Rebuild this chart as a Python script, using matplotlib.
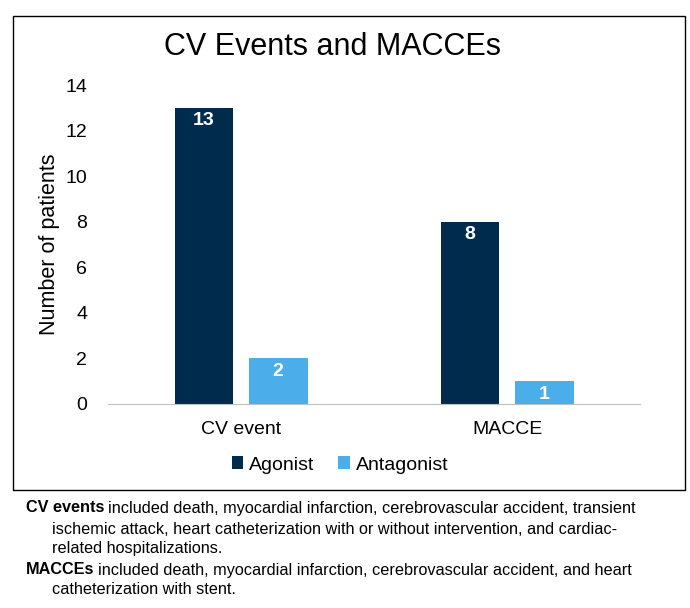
import matplotlib.pyplot as plt
from matplotlib.patches import Rectangle

plt.rcParams['font.family'] = ['Liberation Sans', 'DejaVu Sans']

categories = ["CV event", "MACCE"]
agonist = [13, 8]
antagonist = [2, 1]
series_names = ["Agonist", "Antagonist"]
yticks = [0, 2, 4, 6, 8, 10, 12, 14]

dark = "#002B4D"
light = "#4BADE9"

fig = plt.figure(figsize=(6.9, 6.08), dpi=100)
W, H = 690, 608

# chart frame
fig.patches.append(Rectangle((13 / W, 1 - 490 / H), (685 - 13) / W, (490 - 16) / H,
                             transform=fig.transFigure, fill=False,
                             edgecolor="black", linewidth=1))

ax = fig.add_axes([108 / W, 1 - 404 / H, (640 - 108) / W, (404 - 85) / H])
x = [0, 1]
w = 0.22
off = 0.14
b1 = ax.bar([i - off for i in x], agonist, w, color=dark, label=series_names[0])
b2 = ax.bar([i + off for i in x], antagonist, w, color=light, label=series_names[1])

for bars in (b1, b2):
    for r in bars:
        ax.text(r.get_x() + r.get_width() / 2, r.get_height() - 0.2,
                str(int(r.get_height())), ha="center", va="top",
                color="white", fontsize=14, fontweight="bold")

ax.set_xlim(-0.5, 1.5)
ax.set_ylim(0, 14)
ax.set_yticks(yticks)
ax.set_xticks(x)
ax.set_xticklabels(categories, fontsize=14)
ax.tick_params(axis="y", labelsize=14, length=0, pad=15)
ax.tick_params(axis="x", length=0, pad=12)
for s in ["top", "right", "left"]:
    ax.spines[s].set_visible(False)
ax.spines["bottom"].set_color("#BFBFBF")
ax.set_ylabel("Number of patients", fontsize=15.5, labelpad=4)

fig.text(333 / W, 1 - 47 / H, "CV Events and MACCEs", ha="center", va="center",
         fontsize=22)

fig.legend(handles=[b1, b2], labels=series_names, loc="center",
           bbox_to_anchor=(340 / W, 1 - 465 / H), ncol=2, frameon=False,
           fontsize=14, handlelength=0.6, handleheight=0.6, handletextpad=0.3,
           columnspacing=1.2)

fs = 11.7
x0 = 26 / W
x1 = 52 / W
lines = [
    (x0, 508, [("CV events", "bold"), ("included death, myocardial infarction, cerebrovascular accident, transient", "normal")]),
    (x1, 529, [("ischemic attack, heart catheterization with or without intervention, and cardiac-", "normal")]),
    (x1, 549, [("related hospitalizations.", "normal")]),
    (x0, 570, [("MACCEs", "bold"), ("included death, myocardial infarction, cerebrovascular accident, and heart", "normal")]),
    (x1, 590, [("catheterization with stent.", "normal")]),
]
fig.canvas.draw()
renderer = fig.canvas.get_renderer()
for xs, yp, parts in lines:
    xc = xs
    for txt, wt in parts:
        t = fig.text(xc, 1 - yp / H, txt, ha="left", va="center",
                     fontsize=fs, fontweight=wt)
        bb = t.get_window_extent(renderer=renderer)
        # word gap after the bold lead-in
        xc += (bb.width + 4) / W

fig.savefig("out.png", dpi=100)
